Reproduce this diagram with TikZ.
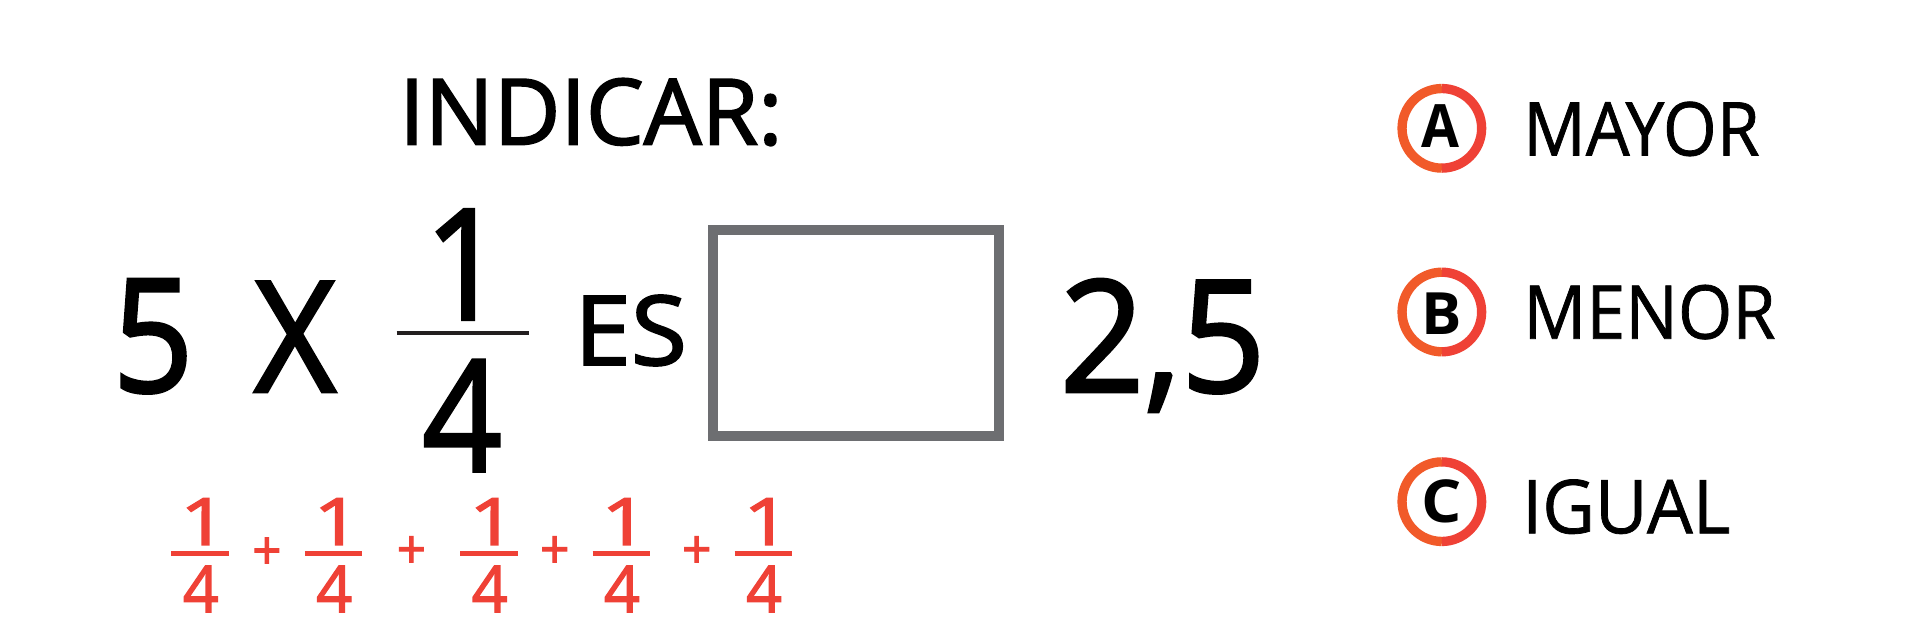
\documentclass[tikz,border=0pt]{standalone}
\usepackage{fontspec}
\usepackage{graphicx}
\setmainfont{Open Sans}
\newfontfamily\boldf{Open Sans Bold}
\newfontfamily\fb[FakeBold=1]{Open Sans}
\newfontfamily\fc[FakeBold=2]{Open Sans}
\definecolor{redm}{HTML}{EF4136}
\definecolor{orgm}{HTML}{F15A29}
\definecolor{boxg}{HTML}{6D6E71}
\definecolor{barg}{HTML}{231F20}
\newlength\un \setlength\un{0.6pt}
% name, x-left, baseline y, width, height, text
\newcommand{\fitt}[7][black]{\node[txt,text=#1] (#2) at (#3,#4) {\resizebox{#5\un}{#6\un}{#7}};}
\tikzset{
  txt/.style={anchor=base west,inner sep=0pt,outer sep=0pt},
  ringl/.style={line width=7.6\un,orgm},
  ringr/.style={line width=7.6\un,redm},
  fracbar/.style={line width=3.4\un,redm},
}
\newcommand{\ring}[3]{%
  \coordinate (#1) at (#2,#3);
  \draw[ringl] (#1) ++(0,32.5) arc (90:270:32.5);
  \draw[ringr] (#1) ++(0,32.5) arc (90:-90:32.5);
}
\newcommand{\redfrac}[2]{%
  \coordinate (f#1) at (#2,452);
  \draw[fracbar] ($(f#1)+(-23.5,0)$) -- ($(f#1)+(23.5,0)$);
  \fitt[redm]{o#1}{#2-16.5}{445}{38.6}{38}{\fc 1}
  \fitt[redm]{u#1}{#2-14.2}{500}{29.4}{38}{\fc 4}
}
\usetikzlibrary{calc}
\begin{document}
\begin{tikzpicture}[x=\un,y=-\un]
\useasboundingbox (0,0) rectangle (1568,513);
\fill[white] (0,0) rectangle (1568,513);
\fitt{ind}{326}{118}{313}{54}{\fc INDICAR:}
\fitt{five}{92}{320}{66}{92}{\fc 5}
\fitt{xx}{207.5}{320}{67}{90}{\fc X}
\fitt{one}{346.5}{261}{66}{90}{\fc 1}
\draw[line width=3.6\un,barg] (324,272) -- (432,272);
\fitt{four}{345}{385}{65}{91}{\fc 4}
\fitt{es}{469}{298}{92}{57}{\fc ES}
\node[draw=boxg,line width=8\un,minimum width=234\un,minimum height=168\un,inner sep=0pt,outer sep=0pt,anchor=north west] (box) at (582,188) {};
\fitt{tf}{865.5}{320}{168}{92}{\fc 2,5}
\redfrac{a}{163.5}
\redfrac{b}{272.5}
\redfrac{c}{399.5}
\redfrac{d}{507.5}
\redfrac{e}{623.5}
\fitt[redm]{pa}{206}{465}{24}{26}{\fc +}
\fitt[redm]{pb}{324}{464}{24}{26}{\fc +}
\fitt[redm]{pc}{441}{464}{24}{26}{\fc +}
\fitt[redm]{pd}{557}{464}{24}{26}{\fc +}
\ring{ra}{1177.5}{104.8}
\ring{rb}{1177.5}{254.8}
\ring{rc}{1177.5}{409.7}
\fitt{la}{1161}{120.6}{31}{35}{\boldf A}
\fitt{lb}{1161}{273}{33}{34}{\boldf B}
\fitt{lc}{1160.5}{427}{33}{35}{\boldf C}
\fitt{may}{1244}{127}{193}{44}{\fb MAYOR}
\fitt{men}{1244}{276.6}{206}{44}{\fb MENOR}
\fitt{igu}{1243}{435.5}{170}{44}{\fb IGUAL}
\end{tikzpicture}
\end{document}
